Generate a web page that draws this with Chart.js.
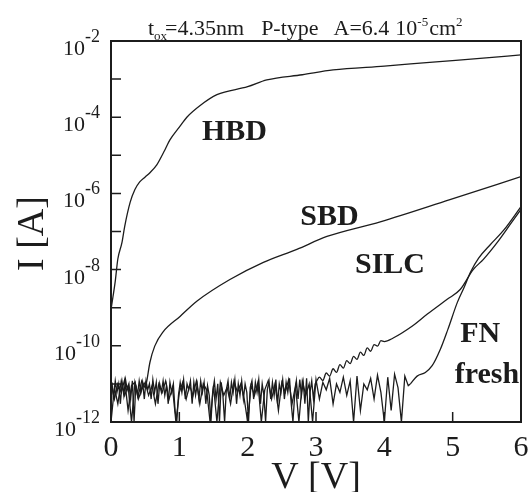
<!DOCTYPE html>
<html>
<head>
<meta charset="utf-8">
<script src="https://cdn.jsdelivr.net/npm/chart.js@4.4.1/dist/chart.umd.min.js"></script>
<style>html,body{margin:0;padding:0;background:#fff}canvas{display:block}</style>
</head>
<body>
<canvas id="c" width="528" height="492"></canvas>
<script>
// ---- data (V in volts, I in amperes) ----
const xTicks = [0, 1, 2, 3, 4, 5, 6];
const yLabelExps = [-2, -4, -6, -8, -10, -12];
const yMinExp = -12, yMaxExp = -2;

const hbdV = [0, 0.03, 0.06, 0.10, 0.16, 0.20, 0.28, 0.35, 0.42, 0.50, 0.57, 0.67, 0.79, 0.86, 1.0, 1.11, 1.3, 1.55, 2.0, 2.28, 2.8, 3.25, 4.0, 4.71, 5.4, 6.0];
const hbdI = [9e-10, 2e-9, 4.6e-9, 1.9e-8, 5.1e-8, 1.35e-7, 5.8e-7, 1.26e-6, 2.0e-6, 2.7e-6, 3.5e-6, 5.6e-6, 1.4e-5, 2.5e-5, 5.5e-5, 1.0e-4, 2.0e-4, 3.9e-4, 6.3e-4, 9.5e-4, 1.3e-3, 1.74e-3, 2.2e-3, 2.8e-3, 3.5e-3, 4.3e-3];

// SBD: noise floor sampled every 0.05 V from 0 V, then the rising branch
const sbdNoiseStep = 0.05;
const sbdNoiseI = [1.2e-11, 4e-12, 1e-11, 6e-12, 1.3e-11, 2e-12, 9e-12, 1.1e-11, 5e-12, 1.2e-11];
const sbdV = [0.50, 0.52, 0.57, 0.64, 0.76, 1.01, 1.26, 1.74, 2.23, 2.72, 3.16, 3.94, 4.96, 6.0];
const sbdI = [8e-12, 1.1e-11, 3.7e-11, 9.8e-11, 2.3e-10, 5.9e-10, 1.5e-9, 5.5e-9, 1.55e-8, 3.4e-8, 7.4e-8, 1.8e-7, 6.9e-7, 2.75e-6];

// SILC: noise floor sampled every 0.025 V from 0.0125 V, then the rising branch
const silcNoiseStep = 0.025;
const silcNoiseI = [
  1.1e-11, 4e-12, 1.2e-11, 6e-12, 1e-11, 3e-12, 1.1e-11, 5e-12, 1.3e-11, 7e-12,
  1e-11, 4e-12, 1.2e-11, 1e-12, 9e-12, 5e-12, 1.2e-11, 6e-12, 1.1e-11, 4e-12,
  1.2e-11, 7e-12, 1e-11, 4e-12, 1.3e-11, 6e-12, 1.1e-11, 3e-12, 1e-11, 6e-12,
  1.2e-11, 5e-12, 9e-12, 3e-12, 1.1e-11, 6e-12, 1e-11, 2e-12, 1e-12, 5e-12,
  1.1e-11, 6e-12, 1.3e-11, 4e-12, 1e-11, 7e-12, 1.2e-11, 3e-12, 1.1e-11, 5e-12,
  1e-11, 4e-12, 1.2e-11, 6e-12, 1.1e-11, 3e-12, 9e-12, 5e-12, 1e-12, 6e-12,
  1.2e-11, 4e-12, 1e-11, 1e-12, 1.1e-11, 5e-12, 1e-12, 7e-12, 1.2e-11, 4e-12,
  1.1e-11, 6e-12, 1.3e-11, 3e-12, 1e-11, 5e-12, 1.2e-11, 4e-12, 1e-11, 6e-12,
  1e-12, 8e-12, 1.2e-11, 4e-12, 1.1e-11, 6e-12, 1.3e-11, 3e-12, 1e-11, 5e-12,
  1e-12, 7e-12, 1.2e-11, 4e-12, 1.1e-11, 5e-12, 1.3e-11, 3e-12, 1e-11, 6e-12,
  1.3e-11, 4e-12, 1.1e-11, 6e-12, 1.4e-11, 3e-12, 1e-12, 5e-12, 1.2e-11, 4e-12,
  1.3e-11, 5e-12, 1.1e-11, 3e-12, 1.4e-11, 1e-12, 6e-12, 1.2e-11, 4e-12, 1e-11];
const silcV = [3.00, 3.05, 3.10, 3.15, 3.20, 3.25, 3.30, 3.35, 3.40, 3.45, 3.50, 3.55, 3.60, 3.65, 3.70, 3.75, 3.80, 3.85, 3.90, 3.95, 4.00, 4.13, 4.40, 4.63, 4.92, 5.11, 5.30, 5.45, 5.65, 5.85, 6.00];
const silcI = [1.1e-11, 1.5e-11, 1.23e-11, 1.93e-11, 1.6e-11, 2.5e-11, 2.0e-11, 3.2e-11, 2.6e-11, 4.1e-11, 3.4e-11, 5.3e-11, 4.4e-11, 6.8e-11, 5.6e-11, 8.8e-11, 7.2e-11, 1.08e-10, 9.8e-11, 1.36e-10, 1.29e-10, 1.6e-10, 3.2e-10, 6.8e-10, 1.66e-9, 3.0e-9, 1.0e-8, 1.86e-8, 5.1e-8, 1.6e-7, 3.8e-7];

// FN fresh: noise floor sampled every 0.05 V from 0 V, then the rising branch
const fnNoiseStep = 0.05;
const fnNoiseI = [
  1e-12, 8e-12, 3e-12, 1.2e-11, 5e-12, 9e-12, 1e-12, 1.1e-11, 4e-12, 7e-12,
  1.1e-11, 5e-12, 9e-12, 3e-12, 1e-11, 6e-12, 1.2e-11, 4e-12, 8e-12, 1e-12,
  6e-12, 1.1e-11, 4e-12, 9e-12, 5e-12, 1.2e-11, 3e-12, 1e-11, 7e-12, 1e-12,
  9e-12, 1e-12, 1.1e-11, 5e-12, 8e-12, 3e-12, 1.2e-11, 6e-12, 1e-11, 4e-12,
  1e-12, 9e-12, 5e-12, 1.1e-11, 1e-12, 7e-12, 1.2e-11, 4e-12, 1e-11, 2e-12,
  1.1e-11, 6e-12, 1.3e-11, 3e-12, 9e-12, 1e-12, 1.2e-11, 5e-12, 1e-11, 1e-12,
  1.3e-11, 4e-12, 1.1e-11, 7e-12, 1.4e-11, 3e-12, 1e-11, 6e-12, 1.5e-11, 5e-12,
  1.2e-11, 1e-12, 1.6e-11, 2e-12, 1e-11, 7e-12, 1.4e-11, 4e-12, 1.7e-11, 6e-12,
  1e-12, 1.5e-11, 2e-12, 1.8e-11, 8e-12, 1e-12, 1.6e-11, 9e-12];
const fnV = [4.38, 4.48, 4.60, 4.70, 4.82, 4.93, 5.07, 5.17, 5.26, 5.38, 5.55, 5.75, 6.0];
const fnI = [1e-11, 1.6e-11, 2e-11, 3.0e-11, 8.1e-11, 2.7e-10, 1.4e-9, 3.5e-9, 8.5e-9, 2.0e-8, 4.5e-8, 1.1e-7, 4.5e-7];

// curve labels, anchored in data space
const curveLabels = [
  {text: 'HBD',   v: 1.33, i: 2.5e-5},
  {text: 'SBD',   v: 2.77, i: 1.48e-7},
  {text: 'SILC',  v: 3.57, i: 8.1e-9},
  {text: 'FN',    v: 5.11, i: 1.26e-10},
  {text: 'fresh', v: 5.03, i: 1.05e-11}
];

// ---- helpers ----
const serif = "'Liberation Serif','Times New Roman',serif";
const ink = '#1c1c1c';
function pts(V, I) { return V.map((v, k) => ({x: v, y: I[k]})); }
function noisePts(start, step, I, joinV, joinI) {
  const p = I.map((val, k) => ({x: +(start + k * step).toFixed(4), y: val}));
  p.push({x: joinV, y: joinI});
  return p;
}
const noiseStyle = {borderColor: ink, borderWidth: 1.3, tension: 0, pointRadius: 0};
const curveStyle = {borderColor: ink, borderWidth: 1.3, cubicInterpolationMode: 'monotone', pointRadius: 0};

const deco = {
  id: 'deco',
  afterDraw(chart) {
    const {ctx, chartArea: a, scales: {x, y}} = chart;
    ctx.save();
    ctx.strokeStyle = ink;
    ctx.lineWidth = 2;
    ctx.strokeRect(a.left, a.top, a.right - a.left, a.bottom - a.top);
    ctx.lineWidth = 1.5;
    ctx.beginPath();
    for (let e = yMinExp + 1; e < yMaxExp; e++) {
      const py = y.getPixelForValue(Math.pow(10, e));
      ctx.moveTo(a.left, py); ctx.lineTo(a.left + 10, py);
    }
    for (const v of xTicks) {
      if (v <= 0 || v >= 6) continue;
      const px = x.getPixelForValue(v);
      ctx.moveTo(px, a.bottom); ctx.lineTo(px, a.bottom - 10);
    }
    ctx.stroke();

    ctx.fillStyle = ink;
    ctx.textBaseline = 'alphabetic';
    // x tick labels
    ctx.font = `30px ${serif}`;
    ctx.textAlign = 'center';
    for (const v of xTicks) ctx.fillText(String(v), x.getPixelForValue(v), a.bottom + 34);
    // y tick labels 10^e
    ctx.textAlign = 'right';
    for (const e of yLabelExps) {
      const py = y.getPixelForValue(Math.pow(10, e));
      const es = String(e);
      ctx.font = `18px ${serif}`;
      ctx.fillText(es, a.left - 11, py + 1);
      const w = ctx.measureText(es).width;
      ctx.font = `22px ${serif}`;
      ctx.fillText('10', a.left - 11 - w, py + 14);
    }
    // axis titles
    ctx.textAlign = 'center';
    ctx.font = `38px ${serif}`;
    ctx.fillText('V [V]', (a.left + a.right) / 2, 488);
    ctx.save();
    ctx.translate(33, (a.top + a.bottom) / 2 + 2);
    ctx.rotate(-Math.PI / 2);
    ctx.textBaseline = 'middle';
    ctx.fillText('I [A]', 0, 0);
    ctx.restore();
    // header, composed left to right
    ctx.textAlign = 'left';
    const base = 35;
    let cx = 148;
    const seg = (t, size, dy, after) => {
      ctx.font = `${size}px ${serif}`;
      ctx.fillText(t, cx, base + dy);
      cx += ctx.measureText(t).width + after;
    };
    seg('t', 22, 0, 0);
    seg('ox', 13, 5, -2);
    seg('=4.35nm', 22, 0, 17);
    seg('P-type', 22, 0, 15);
    seg('A=6.4', 22, 0, 6);
    seg('10', 22, 0, 0);
    seg('-5', 13, -9, 1);
    seg('cm', 22, 0, 0);
    seg('2', 13, -9, 0);
    // curve labels
    ctx.font = `bold 30px ${serif}`;
    for (const l of curveLabels) ctx.fillText(l.text, x.getPixelForValue(l.v), y.getPixelForValue(l.i));
    ctx.restore();
  }
};

new Chart(document.getElementById('c'), {
  type: 'line',
  data: {
    datasets: [
      {data: noisePts(0, fnNoiseStep, fnNoiseI, fnV[0], fnI[0]), ...noiseStyle},
      {data: pts(fnV, fnI), ...curveStyle},
      {data: noisePts(0.0125, silcNoiseStep, silcNoiseI, silcV[0], silcI[0]), ...noiseStyle},
      {data: pts(silcV, silcI), ...curveStyle},
      {data: noisePts(0, sbdNoiseStep, sbdNoiseI, sbdV[0], sbdI[0]), ...noiseStyle},
      {data: pts(sbdV, sbdI), ...curveStyle},
      {data: pts(hbdV, hbdI), ...curveStyle}
    ]
  },
  options: {
    responsive: false,
    animation: false,
    devicePixelRatio: 1,
    layout: {padding: {left: 111, right: 7, top: 41, bottom: 70}},
    plugins: {legend: {display: false}, tooltip: {enabled: false}},
    scales: {
      x: {type: 'linear', min: 0, max: 6, display: false},
      y: {type: 'logarithmic', min: Math.pow(10, yMinExp), max: Math.pow(10, yMaxExp), display: false}
    }
  },
  plugins: [deco]
});
</script>
</body>
</html>
